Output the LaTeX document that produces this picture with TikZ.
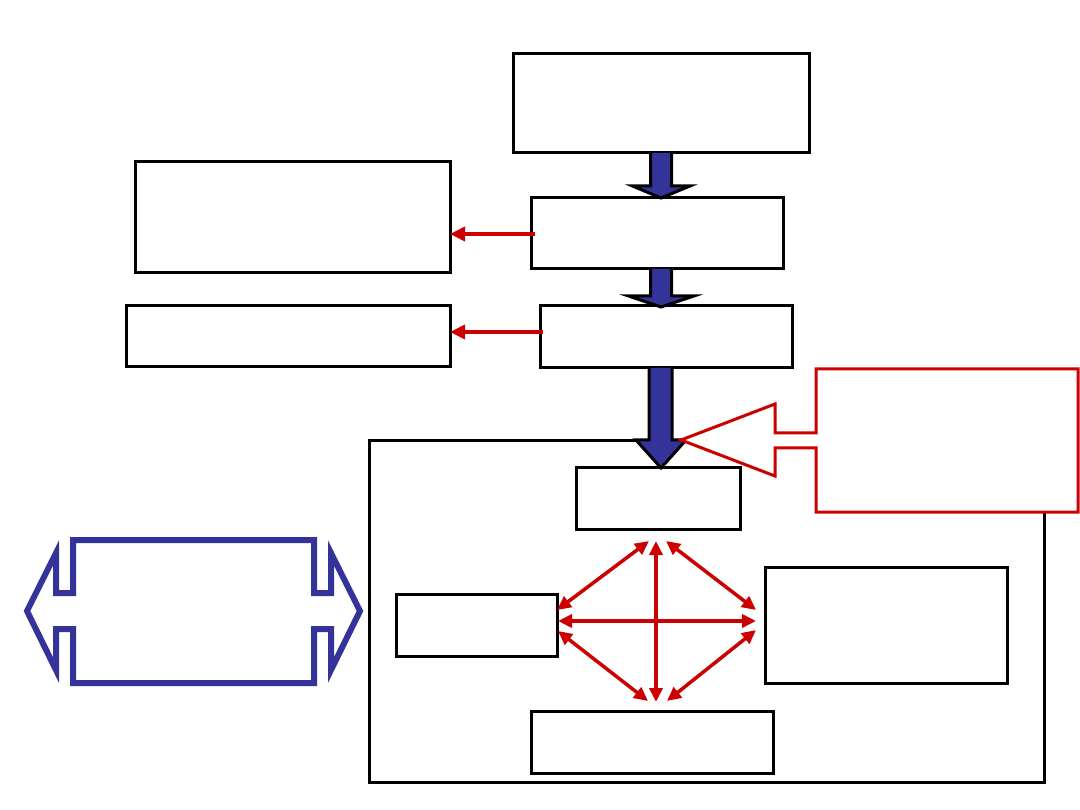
\documentclass[tikz,border=0pt]{standalone}
\usetikzlibrary{arrows.meta,calc}
\definecolor{navy}{HTML}{333399}
\definecolor{redc}{HTML}{CC0000}
\begin{document}
\begin{tikzpicture}[x=1pt,y=-1pt,
  box/.style={draw=black,line width=3pt,fill=white,inner sep=0pt,outer sep=0pt},
  blk/.style={draw=black,line width=3pt,fill=navy,line join=miter},
  redarr/.style={draw=redc,line width=4pt,-{Triangle[length=15pt,width=14pt]}},
  dblarr/.style={draw=redc,line width=3.5pt,{Triangle[length=14pt,width=13pt]}-{Triangle[length=14pt,width=13pt]}},
  callout/.style={draw=redc,line width=3pt,fill=white,line join=miter},
  bluedbl/.style={draw=navy,line width=6pt,line join=miter}]
\useasboundingbox (0,0) rectangle (1080,810);
% boxes
\node[box,minimum width=296pt,minimum height=99pt] (b1) at (661,103.5) {};
\node[box,minimum width=252pt,minimum height=71pt] (b2) at (657,233.5) {};
\node[box,minimum width=252pt,minimum height=62pt] (b3) at (666,337) {};
\node[box,minimum width=315pt,minimum height=111pt] (l1) at (292.5,217.5) {};
\node[box,minimum width=324pt,minimum height=61pt] (l2) at (288,336.5) {};
\node[box,fill=none,minimum width=675pt,minimum height=341pt] (big) at (706.5,611.5) {};
\node[box,minimum width=164pt,minimum height=61pt] (it) at (658,498.5) {};
\node[box,minimum width=161pt,minimum height=62pt] (il) at (476.5,625) {};
\node[box,minimum width=242pt,minimum height=116pt] (ir) at (886,625) {};
\node[box,minimum width=242pt,minimum height=62pt] (ib) at (652,742) {};
% blue down arrows
\draw[blk] ($(b1.south)+(-10.5,0)$) -- ++(0,33) -- ++(-18,0) -- (661,198) -- (690,186) -- ($(b1.south)+(10.5,33)$) -- ($(b1.south)+(10.5,0)$);
\draw[blk] ($(b2.south)+(-6.5,0)$) -- ++(0,27) -- ++(-22,0) -- (661,307) -- (694,296) -- ($(b2.south)+(14.5,27)$) -- ($(b2.south)+(14.5,0)$);
\draw[blk] (649,368) -- (649,440) -- (636,440) -- (661,468) -- (686,440) -- (672,440) -- (672,368);
% red short arrows
\draw[redarr] (535,234) -- (l1.east |- 0,234);
\draw[redarr] (543,332) -- (l2.east |- 0,332);
% callout
\draw[callout] (816,369) -- (1078,369) -- (1078,512) -- (816,512) -- (816,448) -- (775,448) -- (775,476) -- (681,440) -- (775,404) -- (775,433) -- (816,433) -- cycle;
% inner double arrows
\coordinate (vt) at (656,541); \coordinate (vb) at (656,702);
\coordinate (hl) at (558,621); \coordinate (hr) at (756,621);
\coordinate (d1a) at (649,541); \coordinate (d1b) at (557,610);
\coordinate (d2a) at (666,541); \coordinate (d2b) at (756,610);
\coordinate (d3a) at (558,631); \coordinate (d3b) at (648,701);
\coordinate (d4a) at (756,630); \coordinate (d4b) at (667,701);
\draw[dblarr] (vt) -- (vb);
\draw[dblarr] (hl) -- (hr);
\draw[dblarr] (d1a) -- (d1b);
\draw[dblarr] (d2a) -- (d2b);
\draw[dblarr] (d3a) -- (d3b);
\draw[dblarr] (d4a) -- (d4b);
% blue double-headed block arrow
\draw[bluedbl] (27,611) -- (56,553) -- (56,593) -- (73,593) -- (73,540) -- (314,540) -- (314,593) -- (331,593) -- (331,553) -- (360,611) -- (331,670) -- (331,629) -- (314,629) -- (314,683) -- (73,683) -- (73,629) -- (56,629) -- (56,670) -- cycle;
\end{tikzpicture}
\end{document}
